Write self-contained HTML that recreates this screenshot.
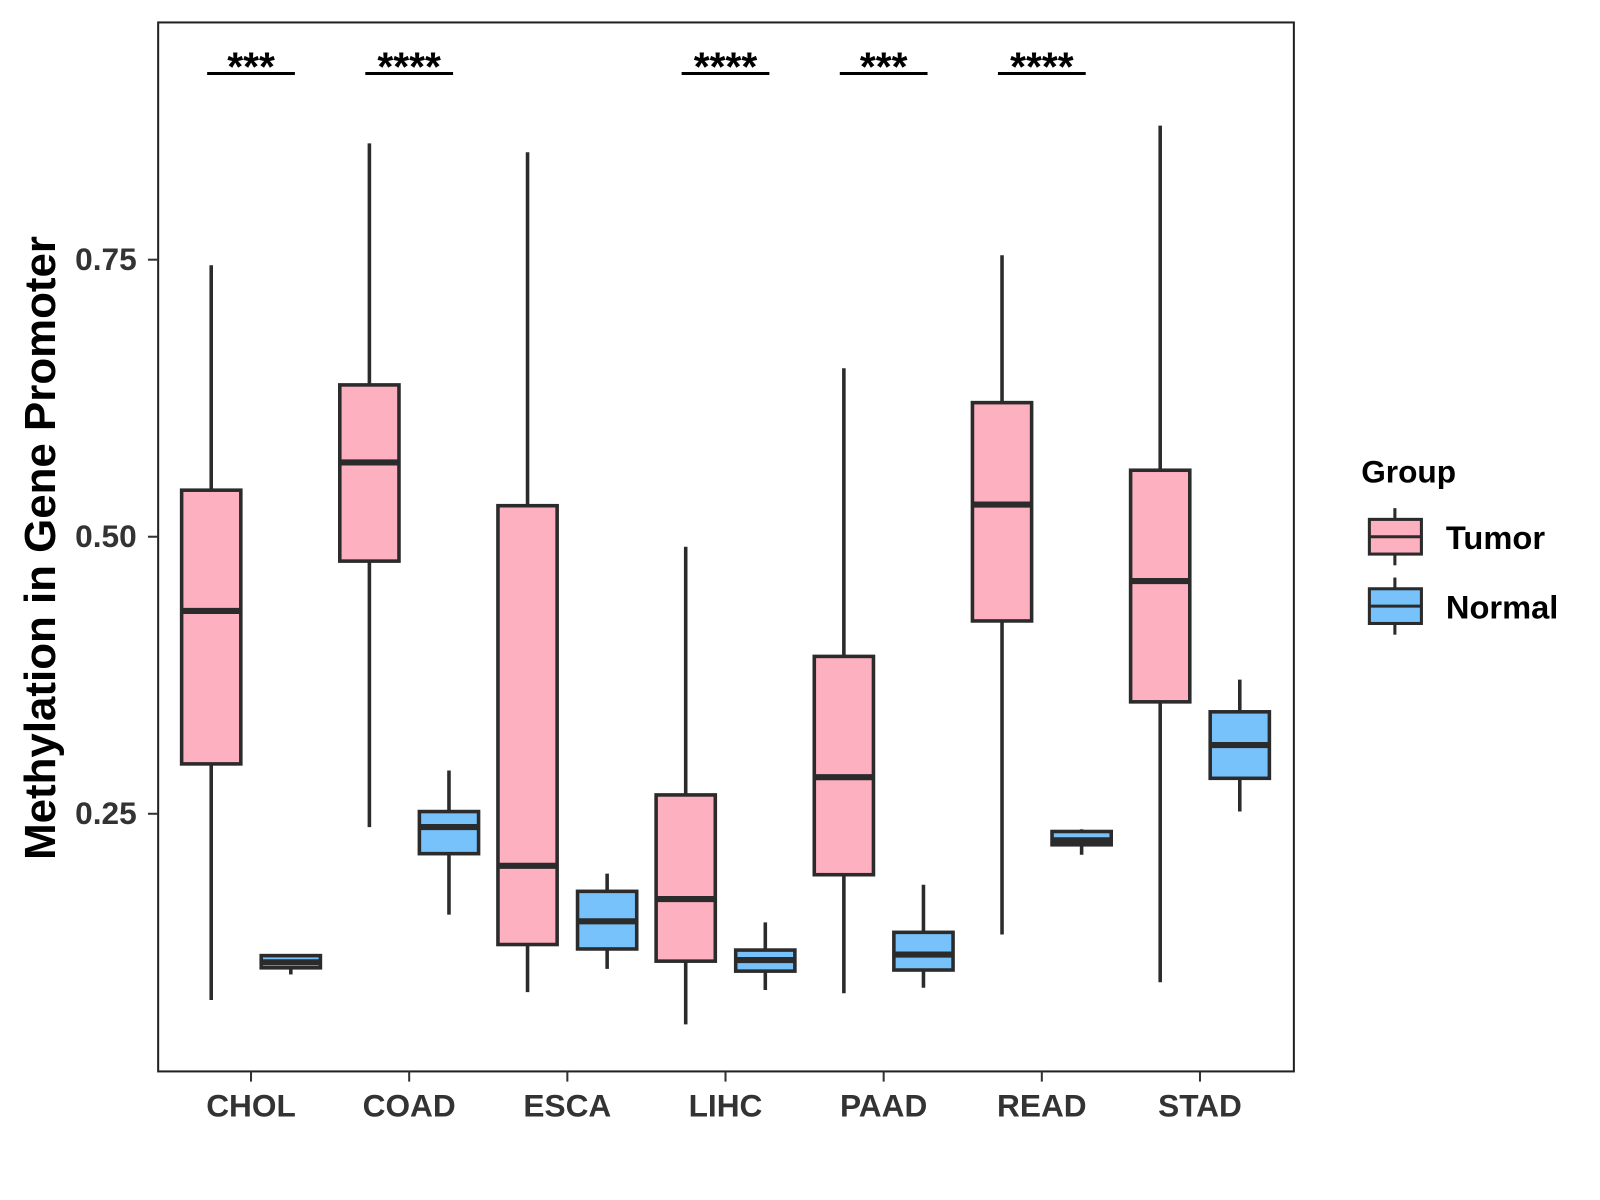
<!DOCTYPE html>
<html><head><meta charset="utf-8">
<style>
html,body{margin:0;padding:0;background:#fff;}
svg{display:block;font-family:"Liberation Sans",Arial,sans-serif;}
</style></head>
<body>
<svg id="chart" width="1600" height="1200" viewBox="0 0 1600 1200">
<g transform="scale(1.0204)">
<rect x="155" y="22" width="1113" height="1028" fill="#fff" stroke="#222" stroke-width="2"/>
<g id="marks"></g>
<g id="axes"></g>
<text x="0" y="0" transform="translate(54,537) rotate(-90)" text-anchor="middle" font-size="43" font-weight="bold" fill="#000">Methylation in Gene Promoter</text>
<g>
<text x="1334" y="473" font-size="31" font-weight="bold" fill="#000">Group</text>
<g>
<line x1="1367" y1="498" x2="1367" y2="554" stroke="#2b2b2b" stroke-width="3"/>
<rect x="1342" y="509" width="51" height="34" fill="#FDB0C0" stroke="#2b2b2b" stroke-width="3"/>
<line x1="1342" y1="526" x2="1393" y2="526" stroke="#2b2b2b" stroke-width="3"/>
<text x="1417" y="538" font-size="32" font-weight="bold" fill="#000">Tumor</text>
</g>
<g>
<line x1="1367" y1="566" x2="1367" y2="622" stroke="#2b2b2b" stroke-width="3"/>
<rect x="1342" y="577" width="51" height="34" fill="#78C2FB" stroke="#2b2b2b" stroke-width="3"/>
<line x1="1342" y1="594" x2="1393" y2="594" stroke="#2b2b2b" stroke-width="3"/>
<text x="1417" y="606" font-size="32" font-weight="bold" fill="#000">Normal</text>
</g>
</g>
</g>
</svg>
<script>
const categories = ["CHOL","COAD","ESCA","LIHC","PAAD","READ","STAD"];
const tumorLow    = [0.082,0.238,0.089,0.060,0.088,0.141,0.098];
const tumorQ1     = [0.295,0.478,0.132,0.117,0.195,0.424,0.351];
const tumorMedian = [0.433,0.567,0.203,0.173,0.283,0.529,0.460];
const tumorQ3     = [0.542,0.637,0.528,0.267,0.392,0.621,0.560];
const tumorHigh   = [0.745,0.855,0.847,0.491,0.652,0.754,0.871];
const normalLow    = [0.105,0.159,0.110,0.091,0.093,0.213,0.252];
const normalQ1     = [0.111,0.214,0.128,0.108,0.109,0.222,0.282];
const normalMedian = [0.116,0.238,0.153,0.118,0.123,0.226,0.312];
const normalQ3     = [0.122,0.252,0.180,0.127,0.143,0.234,0.342];
const normalHigh   = [0.123,0.289,0.196,0.152,0.186,0.236,0.371];
const signif = ["***","****","","****","***","****",""];
const yTicks = [0.25,0.50,0.75];
const yTickLabels = ["0.25","0.50","0.75"];

const NS="http://www.w3.org/2000/svg";
const y = v => 526 - (v-0.5)*1086;
const x = i => 246 + i*155;
const marks=document.getElementById('marks'), axes=document.getElementById('axes');
function mk(tag, attrs, parent){const e=document.createElementNS(NS,tag);for(const k in attrs)e.setAttribute(k,attrs[k]);parent.appendChild(e);return e;}

function box(cx, lo,q1,md,q3,hi, fill, name, parent){
  const g=mk('g',{},parent);
  
  
  mk('line',{x1:cx,x2:cx,y1:y(hi),y2:y(lo),stroke:'#2b2b2b','stroke-width':3.5},g);
  mk('rect',{x:cx-29,y:y(q3),width:58,height:y(q1)-y(q3),fill:fill,stroke:'#2b2b2b','stroke-width':3.5},g);
  mk('line',{x1:cx-29,x2:cx+29,y1:y(md),y2:y(md),stroke:'#2b2b2b','stroke-width':6},g);
}
categories.forEach((c,i)=>{
  box(x(i)-39,tumorLow[i],tumorQ1[i],tumorMedian[i],tumorQ3[i],tumorHigh[i],'#FDB0C0','box-tumor-'+c.toLowerCase(),marks);
  box(x(i)+39,normalLow[i],normalQ1[i],normalMedian[i],normalQ3[i],normalHigh[i],'#78C2FB','box-normal-'+c.toLowerCase(),marks);
  if(signif[i]){
    const g=mk('g',{},marks);
    
    
    mk('line',{x1:x(i)-43,x2:x(i)+43,y1:72,y2:72,stroke:'#000','stroke-width':3},g);
    const t=mk('text',{x:x(i),y:79,'text-anchor':'middle','font-size':40,'font-weight':'bold',fill:'#000'},g);
    t.textContent=signif[i];
  }
  mk('line',{x1:x(i),x2:x(i),y1:1050,y2:1060,stroke:'#333','stroke-width':2},axes);
  const t=mk('text',{x:x(i),y:1094,'text-anchor':'middle','font-size':31,'font-weight':'bold',fill:'#333'},axes);
  
  
  t.textContent=c;
});
yTicks.forEach((v,i)=>{
  mk('line',{x1:145,x2:155,y1:y(v),y2:y(v),stroke:'#333','stroke-width':2},axes);
  const t=mk('text',{x:134,y:y(v)+10,'text-anchor':'end','font-size':31,'font-weight':'bold',fill:'#333'},axes);
  
  
  t.textContent=yTickLabels[i];
});
</script>
</body></html>
